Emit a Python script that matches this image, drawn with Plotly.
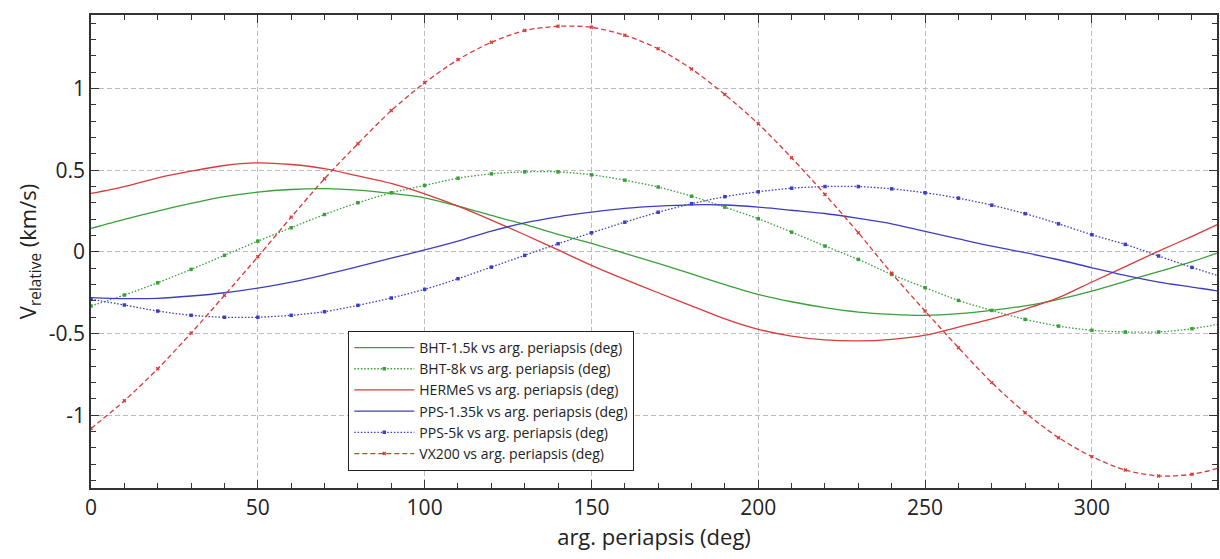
import plotly.graph_objects as go

deg = [0, 10, 20, 30, 40, 50, 60, 70, 80, 90, 100, 110, 120, 130, 140, 150, 160, 170, 180,
       190, 200, 210, 220, 230, 240, 250, 260, 270, 280, 290, 300, 310, 320, 330, 340, 350, 360]

bht_1_5k = [0.144, 0.199, 0.25, 0.297, 0.338, 0.366, 0.382, 0.387, 0.378, 0.358, 0.331, 0.28, 0.223,
            0.168, 0.107, 0.052, -0.009, -0.07, -0.135, -0.20, -0.26, -0.305, -0.341, -0.368, -0.382,
            -0.388, -0.378, -0.358, -0.33, -0.29, -0.24, -0.18, -0.12, -0.06, 0.01, 0.08, 0.144]

bht_8k = [-0.331, -0.264, -0.189, -0.107, -0.021, 0.066, 0.148, 0.229, 0.301, 0.362, 0.407, 0.451,
          0.478, 0.49, 0.49, 0.472, 0.439, 0.397, 0.341, 0.274, 0.203, 0.121, 0.036, -0.046, -0.138,
          -0.219, -0.297, -0.358, -0.413, -0.454, -0.48, -0.49, -0.49, -0.47, -0.435, -0.39, -0.331]

hermes = [0.358, 0.40, 0.453, 0.494, 0.529, 0.545, 0.535, 0.51, 0.465, 0.419, 0.355, 0.28, 0.195,
          0.105, 0.012, -0.082, -0.168, -0.25, -0.33, -0.41, -0.474, -0.515, -0.539, -0.545, -0.535,
          -0.51, -0.46, -0.41, -0.35, -0.28, -0.184, -0.09, 0.005, 0.095, 0.19, 0.28, 0.358]

pps_1_35k = [-0.28, -0.286, -0.284, -0.27, -0.25, -0.221, -0.185, -0.14, -0.09, -0.038, 0.012, 0.066,
             0.127, 0.178, 0.215, 0.243, 0.266, 0.28, 0.288, 0.287, 0.274, 0.255, 0.235, 0.205, 0.172,
             0.125, 0.08, 0.035, -0.005, -0.048, -0.097, -0.144, -0.185, -0.215, -0.245, -0.265, -0.28]

pps_5k = [-0.29, -0.325, -0.362, -0.388, -0.40, -0.40, -0.388, -0.366, -0.327, -0.282, -0.229, -0.164,
          -0.093, -0.021, 0.05, 0.117, 0.182, 0.243, 0.295, 0.338, 0.368, 0.39, 0.40, 0.40, 0.386,
          0.362, 0.329, 0.286, 0.234, 0.172, 0.105, 0.046, -0.025, -0.095, -0.16, -0.23, -0.29]

vx200 = [-1.081, -0.911, -0.715, -0.497, -0.266, -0.03, 0.213, 0.448, 0.662, 0.865, 1.035, 1.177,
         1.283, 1.355, 1.381, 1.375, 1.326, 1.243, 1.12, 0.963, 0.784, 0.576, 0.352, 0.117, -0.131,
         -0.362, -0.586, -0.80, -0.984, -1.137, -1.253, -1.335, -1.371, -1.361, -1.31, -1.22, -1.085]

series = [
    ("BHT-1.5k vs arg. periapsis (deg)", bht_1_5k, "#3a9f3a", "solid", None),
    ("BHT-8k vs arg. periapsis (deg)", bht_8k, "#3a9f3a", "1.5px,1.8px", "square"),
    ("HERMeS vs arg. periapsis (deg)", hermes, "#d93a3a", "solid", None),
    ("PPS-1.35k vs arg. periapsis (deg)", pps_1_35k, "#3d3dc4", "solid", None),
    ("PPS-5k vs arg. periapsis (deg)", pps_5k, "#3d3dc4", "1.5px,1.8px", "square"),
    ("VX200 vs arg. periapsis (deg)", vx200, "#d93a3a", "5px,3px", "x"),
]

y_ticks = [-1, -0.5, 0, 0.5, 1]
y_tick_text = ["-1", "-0.5", "0", "0.5", "1"]
x_ticks = [0, 50, 100, 150, 200, 250, 300]

FONT = "Open Sans, Noto Sans, sans-serif"

fig = go.Figure()
for name, vals, color, dash, sym in series:
    mode = "lines+markers" if sym else "lines"
    fig.add_trace(go.Scatter(
        x=deg, y=vals, name=name, mode=mode,
        line=dict(color=color, width=1.3, dash=dash, shape="spline", smoothing=0.8),
        marker=dict(symbol=sym or "circle", size=3.5, color=color) if sym else None,
    ))

axis_common = dict(
    showline=True, linecolor="#333333", linewidth=1.5, mirror="allticks",
    ticks="inside", ticklen=8, tickcolor="#333333", tickwidth=1,
    showgrid=True, gridcolor="#bdbdbd", griddash="5px,3px", gridwidth=1,
    zeroline=False,
    tickfont=dict(family=FONT, size=21, color="#222222"),
)

fig.update_xaxes(
    range=[0, 337.5], tickvals=x_ticks,
    minor=dict(ticks="inside", dtick=10, ticklen=5, tickcolor="#333333", showgrid=False),
    title=dict(text="arg. periapsis (deg)", font=dict(family=FONT, size=22, color="#222222"), standoff=10),
    **axis_common,
)
fig.update_yaxes(
    range=[-1.445, 1.45], tickvals=y_ticks, ticktext=y_tick_text,
    minor=dict(ticks="inside", dtick=0.1, ticklen=5, tickcolor="#333333", showgrid=False),
    title=dict(text="V<sub>relative</sub> (km/s)", font=dict(family=FONT, size=22, color="#222222"), standoff=6),
    **axis_common,
)

fig.update_layout(
    width=1220, height=559,
    margin=dict(l=91, r=1, t=15, b=71),
    plot_bgcolor="white", paper_bgcolor="white",
    legend=dict(
        x=0.2285, y=0.332, xanchor="left", yanchor="top",
        bgcolor="white", bordercolor="#222222", borderwidth=1,
        font=dict(family=FONT, size=14, color="#222222"),
        itemwidth=60, tracegroupgap=0,
    ),
    showlegend=True,
)

fig.write_html("out.html")
